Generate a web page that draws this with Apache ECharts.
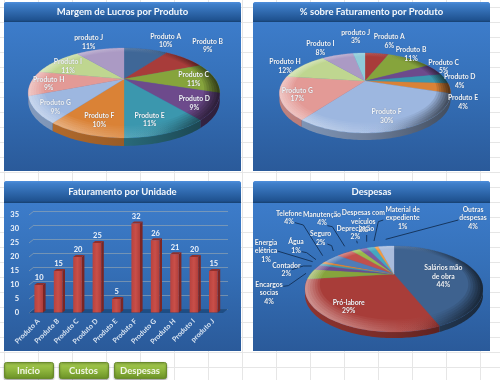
<!DOCTYPE html>
<html><head><meta charset="utf-8">
<style>html,body{margin:0;padding:0;background:#fff}#c{width:500px;height:380px}</style>
<script src="https://cdn.jsdelivr.net/npm/echarts@6/dist/echarts.min.js"></script>
</head><body><div id="c"></div>
<script>
// ---- data ----
const productNames = ['Produto A','Produto B','Produto C','Produto D','Produto E','Produto F','Produto G','Produto H','Produto I','produto J'];
const marginValues = [10,9,11,9,11,10,9,9,11,11];
const revenueShare = [6,11,5,4,4,30,17,12,8,3];
const unitRevenue  = [10,15,20,25,5,32,26,21,20,15];
const expenseNames = ['Salários mão\nde obra','Pró-labore','Encargos\nsocias','Contador','Energia\nelétrica','Água','Telefone','Manutenção','Seguro','Depreciação','Despesas com\nveículos','Material de\nexpediente','Outras\ndespesas'];
const expenseValues = [44,29,4,2,1,1,4,4,2,2,2,1,4];
const yTicks = [0,5,10,15,20,25,30,35];
const panelTitles = ['Margem de Lucros por Produto','% sobre Faturamento por Produto','Faturamento por Unidade','Despesas'];
const buttonNames = ['Início','Custos','Despesas'];

// ---- style ----
const FONT = 'Lato, "Open Sans", sans-serif';
const paletteMargin = ['#3f6797','#a83c3a','#86a43c','#6d4a8c','#3b97ae','#da8236','#9db7e0','#e39a96','#bfd690','#ab9ac4'];
const paletteShare  = ['#a83c3a','#86a43c','#6d4a8c','#3b97ae','#da8236','#9db7e0','#e39a96','#bfd690','#ab9ac4','#8fcbd8'];
const paletteExp    = ['#3e628f','#a83d39','#86a43c','#6d4a8c','#3b97ae','#da8236','#4f7cb8','#c2504c','#9ab84a','#7d5a9e','#45a8c0','#f09a40','#a9bcdc'];
const panels = [[4,2,237,169,20],[253,2,237,169,20],[4,181,237,170,22],[253,181,237,170,22]];
const buttons = [[4,362,49,16],[59,362,49,16],[114,362,52,16]];

// label anchors: [centre x, first line y, line step] in page pixels, same order as the data
const z3 = (arr,ox,oy) => arr.map(a => [a[0]/3+ox, a[1]/3+oy, (a[2]||25)/3]);
const layoutMargin = z3([[497,109],[623,125],[581,225],[583,297],[449,347],[298,348],[166,309],[146,239],[204,186],[266,114]],0,0);
const layoutShare  = z3([[418,111],[483,150],[581,187],[629,231],[639,294],[410,336],[142,271],[105,186],[211,132],[317,98]],250,0);
const layoutExp    = z3([[580,279],[296,383],[57,329],[109,271],[48,203],[138,201],[117,115],[216,119],[212,177],[316,161],[340,114],[458,104],[669,104]],250,175);
const leaderLines = [
 [[135,143],[160,150],[218,242]],[[232,152],[247,155],[284,214]],[[232,207],[245,212],[250,228]],
 [[155,230],[170,233],[198,254]],[[82,228],[188,260]],[[125,284],[160,273],[185,273]],
 [[100,334],[115,332],[168,295]],[[320,197],[322,205]],[[350,180],[350,200]],
 [[400,135],[385,140],[372,198]],[[625,135],[407,193]]
].map(l => l.map(p => [p[0]/3+250, p[1]/3+175]));

function shade(hex,f){
  const n=parseInt(hex.slice(1),16);
  return 'rgb('+[n>>16,(n>>8)&255,n&255].map(c=>Math.round(c*f)).join(',')+')';
}
function globalGrad(x,y,x2,y2,stops){ return {type:'linear',x,y,x2,y2,global:true,colorStops:stops}; }

// perspective-tilted pie drawn as a custom series
function pieSeries(values,colors,g){
  const total = values.reduce((a,b)=>a+b,0);
  const cum=[]; values.reduce((a,b,i)=>(cum[i]=a,a+b),0);
  const pt=(t,r,dy)=>{ const u=r*Math.sin(t), v=-r*Math.cos(t), w=1-g.k*v;
    return [g.cx+g.R*u/w, g.cy+g.S*v/w+(dy||0)]; };
  const arc=(a,b,r,dy)=>{ const n=Math.max(2,Math.ceil((b-a)/0.03)),out=[];
    for(let i=0;i<=n;i++) out.push(pt(a+(b-a)*i/n,r,dy)); return out; };
  const xl=g.cx-g.R*1.05, xr=g.cx+g.R*1.05;
  return {
    type:'custom',coordinateSystem:'none',silent:true,animation:false,z:3,data:values,
    renderItem(params,api){
      const i=params.dataIndex, val=api.value(0);
      const a=cum[i]/total*2*Math.PI, b=(cum[i]+val)/total*2*Math.PI, col=colors[i];
      const kids=[];
      const vis=[]; const n=Math.max(2,Math.ceil((b-a)/0.02));
      for(let j=0;j<=n;j++){const t=a+(b-a)*j/n; if(-Math.cos(t)>=g.k-0.02) vis.push(t);}
      if(vis.length>1){
        const top=vis.map(t=>pt(t,1,0)), bot=vis.map(t=>pt(t,1,g.depth)).reverse();
        kids.push({type:'polygon',shape:{points:top.concat(bot)},style:{
          fill:globalGrad(xl,0,xr,0,[{offset:0,color:shade(col,.85)},{offset:.5,color:shade(col,.7)},{offset:1,color:shade(col,.42)}]),stroke:null}});
      }
      kids.push({type:'polygon',shape:{points:[[g.cx,g.cy]].concat(arc(a,b,1))},style:{fill:col,stroke:col,lineWidth:.3}});
      if(i===values.length-1){
        for(let r=1;r>0.86;r-=0.025){
          const o=arc(0,2*Math.PI,1), inn=arc(0,2*Math.PI,r-0.025).reverse();
          kids.push({type:'polygon',shape:{points:o.concat(inn)},style:{
            fill:globalGrad(xl,0,xr,0,[{offset:0,color:'rgba(255,255,255,.09)'},{offset:.55,color:'rgba(255,255,255,.02)'},{offset:.75,color:'rgba(0,0,0,.04)'},{offset:1,color:'rgba(0,0,0,.14)'}]),stroke:null}});
        }
      }
      return {type:'group',children:kids};
    }
  };
}

// page furniture
const G=[];
for(let x=4;x<500;x+=34) G.push({type:'line',z:0,shape:{x1:x+.5,y1:0,x2:x+.5,y2:380},style:{stroke:'#e6e6e6',lineWidth:1}});
for(let y=7;y<380;y+=15) G.push({type:'line',z:0,shape:{x1:0,y1:y+.5,x2:500,y2:y+.5},style:{stroke:'#e6e6e6',lineWidth:1}});
panels.forEach((p,i)=>{
  const [x,y,w,h,t]=p;
  G.push({type:'rect',z:1,shape:{x,y,width:w,height:h,r:[3,3,0,0]},style:{
    fill:globalGrad(0,y,0,y+h,[{offset:0,color:'#3f80d0'},{offset:.5,color:'#3570b8'},{offset:1,color:'#2a5a9a'}])}});
  G.push({type:'rect',z:1,shape:{x,y,width:w,height:t,r:[3,3,0,0]},style:{
    fill:globalGrad(0,y,0,y+t,[{offset:0,color:'#4f8fdc'},{offset:.12,color:'#3f7fca'},{offset:.9,color:'#1f5290'},{offset:1,color:'#17406f'}])}});
  G.push({type:'text',z:10,style:{text:panelTitles[i],x:x+w/2,y:y+t/2-.5,align:'center',verticalAlign:'middle',fill:'#f4f8fc',font:'bold 9.5px '+FONT}});
});
buttons.forEach((b,i)=>{
  const [x,y,w,h]=b;
  G.push({type:'rect',z:1,shape:{x:x+.5,y:y+.5,width:w,height:h,r:2},style:{
    fill:globalGrad(0,y,0,y+h,[{offset:0,color:'#a6cc50'},{offset:.5,color:'#8fb63e'},{offset:1,color:'#6e9528'}]),stroke:'#6a8c2c',lineWidth:1,shadowBlur:2,shadowColor:'rgba(0,0,0,.35)',shadowOffsetY:1}});
  G.push({type:'text',z:10,style:{text:buttonNames[i],x:x+w/2,y:y+h/2+.5,align:'center',verticalAlign:'middle',fill:'#f2f6e6',font:'bold 9.5px '+FONT}});
});
function pieLabels(names,values,layout){
  names.forEach((nm,i)=>{
    const [x,y,step]=layout[i];
    nm.split('\n').concat([values[i]+'%']).forEach((ln,j)=>{
      G.push({type:'text',z:10,style:{text:ln,x,y:y+j*step,align:'center',verticalAlign:'middle',fill:'#f2f6fb',font:'bold 6.8px '+FONT,textShadowBlur:1,textShadowColor:'rgba(0,0,0,.35)'}});
    });
  });
}
pieLabels(productNames,marginValues,layoutMargin);
pieLabels(productNames,revenueShare,layoutShare);
pieLabels(expenseNames,expenseValues,layoutExp);
leaderLines.forEach(l=>G.push({type:'polyline',z:9,shape:{points:l},style:{stroke:'#16365f',lineWidth:1,fill:null}}));

const chart=echarts.init(document.getElementById('c'),null,{renderer:'canvas'});
chart.setOption({
  animation:false,
  backgroundColor:'#fff',
  graphic:{elements:G},
  grid:[
    {left:29,top:215,width:194,height:98},
    {left:34,top:211,width:194,height:98}
  ],
  xAxis:[
    {type:'category',gridIndex:0,data:productNames,z:5,
      axisLine:{show:false},axisTick:{show:false},
      axisLabel:{interval:0,rotate:45,margin:7,color:'#dbe6f3',fontSize:7,fontFamily:FONT,fontWeight:'bold'}},
    {type:'category',gridIndex:1,data:productNames,show:false}
  ],
  yAxis:[
    {type:'value',gridIndex:0,min:0,max:35,interval:5,z:5,
      axisLine:{show:false},axisTick:{show:false},splitLine:{show:false},
      axisLabel:{margin:10,color:'#eef3fa',fontSize:7.5,fontFamily:FONT,fontWeight:'bold'}},
    {type:'value',gridIndex:1,min:0,max:35,interval:5,z:2,
      axisLine:{show:false},axisTick:{show:false},axisLabel:{show:false},
      splitLine:{show:true,lineStyle:{color:'rgba(165,175,175,.55)',width:1}}}
  ],
  series:[
    pieSeries(marginValues,paletteMargin,{cx:124,cy:79,R:91,S:40.6,k:.311,depth:8}),
    pieSeries(revenueShare,paletteShare,{cx:365,cy:81,R:81.6,S:36.4,k:.3,depth:7}),
    pieSeries(expenseValues,paletteExp,{cx:394,cy:274,R:83.4,S:37.8,k:.349,depth:6}),
    { // left wall ticks and floor
      type:'custom',coordinateSystem:'cartesian2d',xAxisIndex:0,yAxisIndex:0,silent:true,z:3,animation:false,
      data:yTicks.map(v=>[0,v]),
      renderItem(params,api){
        const p=api.coord([0,api.value(1)]), half=api.size([1,0])[0]/2, x=p[0]-half, y=p[1];
        const kids=[{type:'line',shape:{x1:x,y1:y,x2:x+5,y2:y-4},style:{stroke:'rgba(165,175,175,.55)',lineWidth:1}}];
        if(api.value(1)===0){
          const w=api.size([1,0])[0]*productNames.length;
          kids.push({type:'polygon',shape:{points:[[x,y],[x+w,y],[x+w+5,y-4],[x+5,y-4]]},style:{fill:'#1d4a80',opacity:.9}});
        }
        return {type:'group',children:kids};
      }
    },
    { // bars
      type:'custom',coordinateSystem:'cartesian2d',xAxisIndex:0,yAxisIndex:0,silent:true,z:4,animation:false,
      data:unitRevenue.map((v,i)=>[i,v]),
      renderItem(params,api){
        const p=api.coord([api.value(0),api.value(1)]), base=api.coord([api.value(0),0]);
        const bw=8.6,dx=2.6,dy=2, x=p[0]-bw/2, t=p[1], b=base[1]-.5;
        return {type:'group',children:[
          {type:'polygon',shape:{points:[[x+bw,t],[x+bw+dx,t-dy],[x+bw+dx,b-dy],[x+bw,b]]},style:{fill:'#7c2624'}},
          {type:'polygon',shape:{points:[[x,t],[x+dx,t-dy],[x+bw+dx,t-dy],[x+bw,t]]},style:{fill:'#8f302d'}},
          {type:'rect',shape:{x,y:t,width:bw,height:b-t},style:{fill:globalGrad(x,0,x+bw,0,[{offset:0,color:'#b8423e'},{offset:.5,color:'#c94f49'},{offset:1,color:'#b03e3a'}])}},
          {type:'text',style:{text:String(api.value(1)),x:p[0]+.5,y:t-7,align:'center',verticalAlign:'middle',fill:'#eef3fa',font:'bold 7.5px '+FONT}}
        ]};
      }
    }
  ]
});
</script></body></html>
